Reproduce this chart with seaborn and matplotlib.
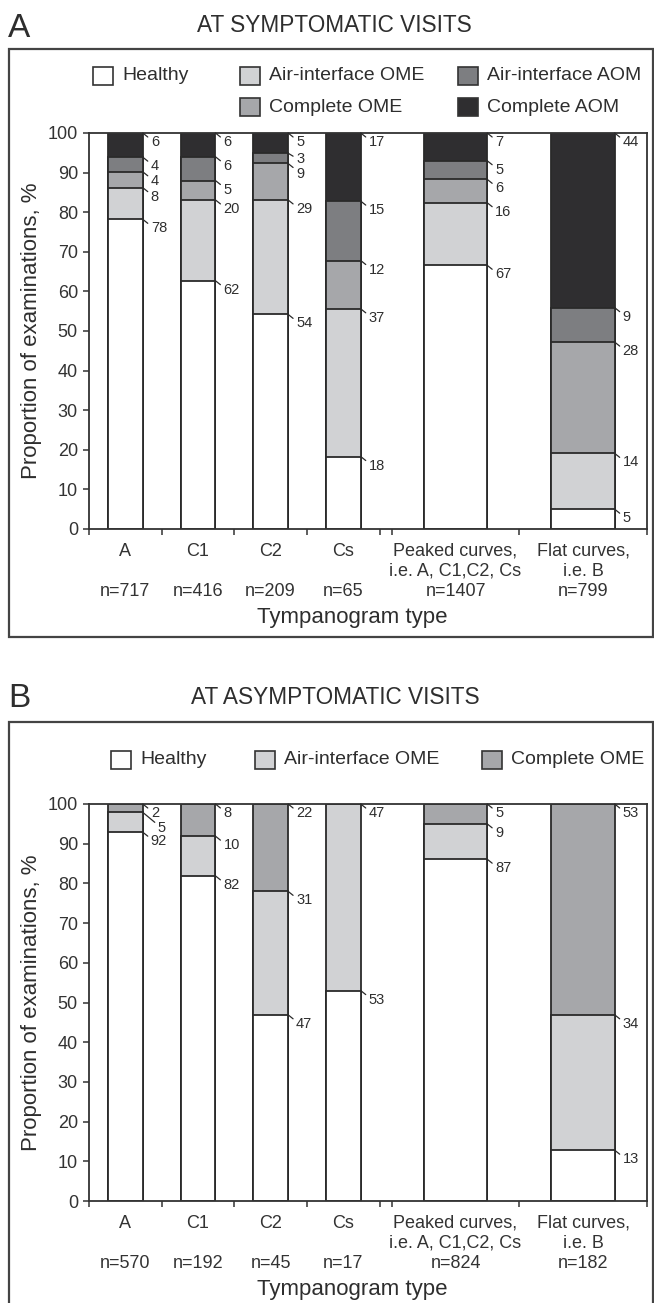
import numpy as np
import pandas as pd
import matplotlib
matplotlib.use("Agg")
import matplotlib.pyplot as plt
from matplotlib.patches import Rectangle
from matplotlib.lines import Line2D
import seaborn as sns

# ---------------- data ----------------
categories = ["A", "C1", "C2", "Cs", "Peaked", "Flat"]
tick_labels_A = ["A\n\nn=717", "C1\n\nn=416", "C2\n\nn=209", "Cs\n\nn=65",
                 "Peaked curves,\ni.e. A, C1,C2, Cs\nn=1407",
                 "Flat curves,\ni.e. B\nn=799"]
tick_labels_B = ["A\n\nn=570", "C1\n\nn=192", "C2\n\nn=45", "Cs\n\nn=17",
                 "Peaked curves,\ni.e. A, C1,C2, Cs\nn=824",
                 "Flat curves,\ni.e. B\nn=182"]

series_A = ["Healthy", "Air-interface OME", "Complete OME",
            "Air-interface AOM", "Complete AOM"]
series_B = ["Healthy", "Air-interface OME", "Complete OME"]

# Panel A: segment heights (% of examinations), bottom to top
a_healthy = [78.2, 62.7, 54.2, 18.3, 66.6, 5.0]
a_air_ome = [8.0, 20.4, 28.9, 37.3, 15.8, 14.1]
a_compl_ome = [4.0, 4.9, 9.2, 12.2, 5.9, 28.1]
a_air_aom = [3.7, 6.0, 2.6, 15.0, 4.7, 8.7]
a_compl_aom = [6.1, 6.0, 5.1, 17.2, 7.0, 44.1]
# Panel A: printed labels
a_lab_healthy = [78, 62, 54, 18, 67, 5]
a_lab_air_ome = [8, 20, 29, 37, 16, 14]
a_lab_compl_ome = [4, 5, 9, 12, 6, 28]
a_lab_air_aom = [4, 6, 3, 15, 5, 9]
a_lab_compl_aom = [6, 6, 5, 17, 7, 44]

# Panel B: segment heights
b_healthy = [92.9, 81.9, 46.9, 53.0, 86.1, 12.8]
b_air_ome = [5.0, 10.0, 31.1, 47.0, 8.9, 34.1]
b_compl_ome = [2.1, 8.1, 22.0, 0.0, 5.0, 53.1]
# Panel B: printed labels
b_lab_healthy = [92, 82, 47, 53, 87, 13]
b_lab_air_ome = [5, 10, 31, 47, 9, 34]
b_lab_compl_ome = [2, 8, 22, None, 5, 53]

colors = {"Healthy": "#ffffff", "Air-interface OME": "#d1d2d4",
          "Complete OME": "#a6a7aa", "Air-interface AOM": "#7d7e81",
          "Complete AOM": "#2f2e30"}

# ---------------- layout (style) ----------------
W, H = 654, 1303
x_pos = [0.5, 1.5, 2.5, 3.5, 5.045, 6.80]
bar_w = [0.48, 0.48, 0.48, 0.48, 0.87, 0.87]
x_bounds = [0, 1, 2, 3, 4, 4.17, 5.92, 7.68]
EDGE = "#2a2a2a"
TXT = "#2e2e2e"

sns.set_style("white")
plt.rcParams["font.family"] = ["Liberation Sans", "DejaVu Sans"]
plt.rcParams["text.color"] = TXT
plt.rcParams["axes.labelcolor"] = TXT
plt.rcParams["xtick.color"] = "#333333"
plt.rcParams["ytick.color"] = "#333333"

fig = plt.figure(figsize=(W / 100, H / 100), dpi=100)
fig.patch.set_facecolor("white")


def fx(x):
    return x / W


def fy(y):
    return 1 - y / H


axA = fig.add_axes([fx(89), fy(529), (647 - 89) / W, (529 - 133) / H])
axB = fig.add_axes([fx(89), fy(1201), (647 - 89) / W, (1201 - 804) / H])


def draw_panel(ax, names, heights, labels, ticklabels, special=None):
    special = special or {}
    rows = []
    for s, hs in zip(names, heights):
        for c, xp, w, h in zip(categories, x_pos, bar_w, hs):
            rows.append(dict(series=s, category=c, x=xp, w=w, h=h))
    df = pd.DataFrame(rows)
    df["top"] = df.groupby("category")["h"].cumsum()
    # draw from the topmost series down so lower segments overlay
    for s in reversed(names):
        sub = df[df.series == s]
        for _, r in sub.iterrows():
            if r["h"] <= 0:
                continue
            sns.barplot(x=[r["x"]], y=[r["top"]], native_scale=True, orient="x",
                        width=r["w"], color=colors[s], saturation=1,
                        edgecolor=EDGE, linewidth=1.3, errorbar=None, ax=ax)
    ax.set_xlim(x_bounds[0], x_bounds[-1])
    ax.set_ylim(0, 100)
    ax.set_yticks(np.arange(0, 101, 10))
    ax.set_xticks(x_bounds)
    ax.set_xticklabels([""] * len(x_bounds))
    ax.set_xticks(x_pos, minor=True)
    ax.set_xticklabels(ticklabels, minor=True, fontsize=13, linespacing=1.22)
    ax.tick_params(axis="x", which="major", direction="out", length=4,
                   width=1.1, bottom=True)
    ax.tick_params(axis="x", which="minor", length=0, pad=10, bottom=True)
    ax.tick_params(axis="y", direction="out", length=4, width=1.1, pad=4,
                   labelsize=13, left=True)
    for sp in ax.spines.values():
        sp.set_visible(True)
        sp.set_color("#333333")
        sp.set_linewidth(1.3)
    ax.set_xlabel("Tympanogram type", fontsize=16, labelpad=3)
    ax.xaxis.set_label_coords(0.472, -0.197)
    ax.set_ylabel("Proportion of examinations, %", fontsize=16, labelpad=4)

    # value labels with short leaders
    inv = fig.transFigure.inverted()
    for s, labs in zip(names, labels):
        sub = df[df.series == s].reset_index(drop=True)
        for i, r in sub.iterrows():
            lab = labs[i]
            if lab is None:
                continue
            xr = r["x"] + r["w"] / 2
            X, Y = ax.transData.transform((xr, r["top"]))
            dx1, dy1, dxt, dyt = special.get((s, r["category"]), (5, 4, 8, 9))
            p0 = inv.transform((X, Y))
            p1 = inv.transform((X + dx1, Y - dy1))
            pt = inv.transform((X + dxt, Y - dyt))
            fig.add_artist(Line2D([p0[0], p1[0]], [p0[1], p1[1]],
                                  transform=fig.transFigure, color=EDGE, lw=0.9))
            fig.text(pt[0], pt[1], str(lab), fontsize=10.5, ha="left",
                     va="center", color=TXT)


draw_panel(axA, series_A,
           [a_healthy, a_air_ome, a_compl_ome, a_air_aom, a_compl_aom],
           [a_lab_healthy, a_lab_air_ome, a_lab_compl_ome, a_lab_air_aom,
            a_lab_compl_aom], tick_labels_A,
           special={("Air-interface AOM", "C2"): (5, 3, 8, 6),
                    ("Complete OME", "C2"): (5, 4, 8, 11)})
draw_panel(axB, series_B, [b_healthy, b_air_ome, b_compl_ome],
           [b_lab_healthy, b_lab_air_ome, b_lab_compl_ome], tick_labels_B,
           special={("Air-interface OME", "A"): (12, 10, 15, 16)})

# panel frames
fig.add_artist(Rectangle((fx(9), fy(637)), (653 - 9) / W, (637 - 49) / H,
                         transform=fig.transFigure, fill=False,
                         ec="#444444", lw=1.6))
fig.add_artist(Rectangle((fx(9), fy(1320)), (653 - 9) / W, (1320 - 722) / H,
                         transform=fig.transFigure, fill=False,
                         ec="#444444", lw=1.6))

# panel letters and titles
fig.text(fx(8), fy(37), "A", fontsize=24, ha="left", va="baseline")
fig.text(fx(334), fy(25), "AT SYMPTOMATIC VISITS", fontsize=16.3,
         ha="center", va="center")
fig.text(fx(8), fy(707), "B", fontsize=24, ha="left", va="baseline")
fig.text(fx(335), fy(697), "AT ASYMPTOMATIC VISITS", fontsize=16.3,
         ha="center", va="center")


# legends
def legend_item(x, y, name):
    fig.add_artist(Rectangle((fx(x), fy(y + 9)), 20 / W, 18 / H,
                             transform=fig.transFigure, fc=colors[name],
                             ec="#333333", lw=1.2))
    fig.text(fx(x + 29), fy(y), name, fontsize=14, ha="left", va="center")


legend_item(93, 76, "Healthy")
legend_item(240, 76, "Air-interface OME")
legend_item(458, 76, "Air-interface AOM")
legend_item(240, 107, "Complete OME")
legend_item(458, 107, "Complete AOM")

legend_item(111, 760, "Healthy")
legend_item(255, 760, "Air-interface OME")
legend_item(482, 760, "Complete OME")

fig.savefig("out.png", dpi=100, facecolor="white")
